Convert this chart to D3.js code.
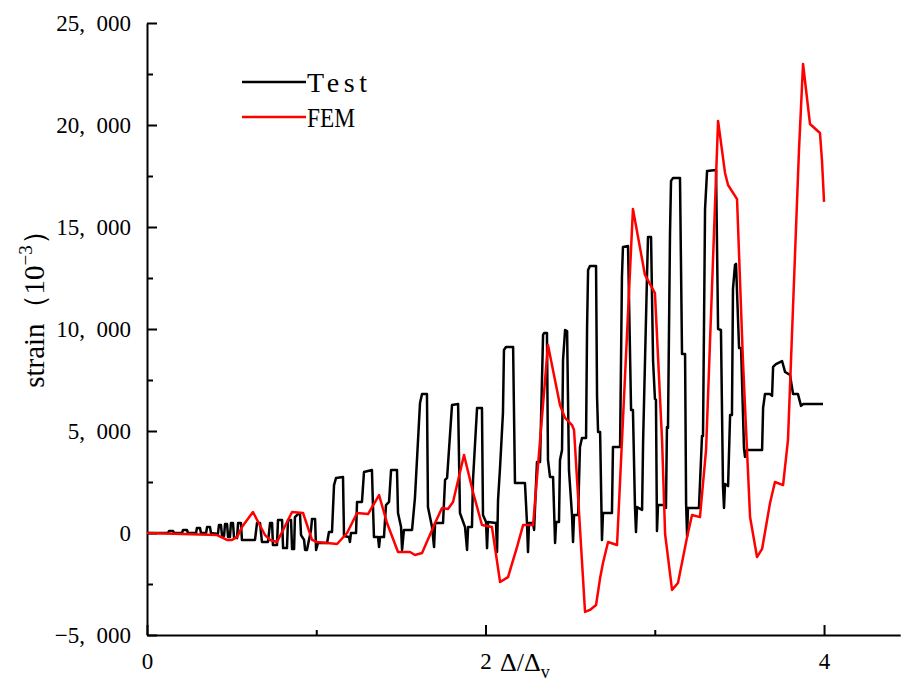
<!DOCTYPE html>
<html>
<head>
<meta charset="utf-8">
<script src="https://cdn.jsdelivr.net/npm/d3@7"></script>
<style>
  body { margin: 0; background: #fff; }
  svg text { font-family: "Liberation Serif", "Times New Roman", serif; fill: #000; }
</style>
</head>
<body>
<div id="chart"></div>
<script>
// Test curve (black) - [delta/delta_y, strain]
var testPoints = [
  [0,0],[0.124,0],[0.130,100],[0.154,100],[0.160,0],[0.207,0],[0.213,150],[0.236,150],[0.242,0],
  [0.290,0],[0.295,250],[0.313,250],[0.319,0],[0.349,0],[0.355,290],[0.372,290],[0.378,0],
  [0.419,-50],[0.425,390],[0.437,390],[0.443,-100],[0.455,-150],[0.461,440],[0.473,440],[0.479,-200],
  [0.490,-200],[0.496,490],[0.508,490],[0.514,-200],[0.532,-250],[0.538,490],[0.555,490],[0.561,-340],
  [0.638,-340],[0.650,490],[0.668,490],[0.679,-440],[0.715,-440],[0.727,490],[0.739,490],[0.744,-590],
  [0.768,-590],[0.774,640],[0.798,640],[0.804,-740],[0.827,-740],[0.833,640],[0.851,640],[0.857,-780],
  [0.869,-780],[0.874,780],[0.892,930],[0.904,930],[0.910,-100],[0.928,-340],[0.934,-830],[0.945,-830],
  [0.969,150],[0.975,690],[0.993,690],[0.999,-830],[1.010,-490],[1.064,-490],[1.075,50],[1.093,50],
  [1.105,2350],[1.117,2700],[1.158,2750],[1.164,-150],[1.193,-200],[1.199,-440],[1.205,0],[1.235,0],
  [1.241,1520],[1.270,1520],[1.282,2990],[1.329,3090],[1.335,1320],[1.341,-200],[1.365,-200],[1.371,-690],
  [1.377,-200],[1.400,-200],[1.412,1370],[1.430,1520],[1.442,3090],[1.477,3090],[1.483,980],[1.501,290],
  [1.507,-830],[1.518,150],[1.566,150],[1.583,1720],[1.613,6370],[1.625,6810],[1.654,6810],[1.660,1270],
  [1.684,290],[1.696,-690],[1.702,490],[1.749,490],[1.761,2600],[1.773,2700],[1.802,6270],[1.838,6320],
  [1.849,980],[1.879,290],[1.891,-830],[1.897,290],[1.920,290],[1.926,2600],[1.950,6130],[1.979,6130],
  [1.985,880],[2.003,540],[2.009,-740],[2.015,540],[2.062,490],[2.068,-930],[2.074,1620],[2.086,3240],
  [2.103,5880],[2.109,8970],[2.121,9120],[2.163,9120],[2.174,2450],[2.233,2450],[2.245,490],[2.251,-930],
  [2.257,490],[2.281,490],[2.287,150],[2.304,3480],[2.322,3480],[2.340,9710],[2.346,9800],[2.363,9800],
  [2.369,3580],[2.381,2750],[2.399,2750],[2.411,-490],[2.417,540],[2.434,540],[2.440,3580],[2.452,4070],
  [2.458,8480],[2.470,9950],[2.482,9900],[2.493,3090],[2.511,880],[2.517,-440],[2.523,880],[2.547,880],
  [2.558,4220],[2.570,4660],[2.594,4660],[2.600,10100],[2.606,12890],[2.617,13090],[2.653,13090],
  [2.659,6670],[2.665,4950],[2.677,4950],[2.688,-340],[2.694,980],[2.747,980],[2.753,4220],[2.795,4220],
  [2.806,12550],[2.812,14020],[2.842,14070],[2.860,6030],[2.871,6030],[2.883,1270],[2.889,50],[2.895,1270],
  [2.925,1130],[2.931,4460],[2.954,12550],[2.960,14510],[2.978,14510],[2.990,8430],[3.001,6570],
  [3.007,6520],[3.013,100],[3.019,1370],[3.061,1370],[3.066,1230],[3.072,5200],[3.078,5150],[3.090,14710],
  [3.096,17260],[3.108,17400],[3.149,17400],[3.161,8770],[3.179,8770],[3.185,1470],[3.191,-150],
  [3.196,1230],[3.261,1230],[3.279,4750],[3.285,4750],[3.297,15880],[3.309,17750],[3.362,17790],
  [3.374,10000],[3.391,9950],[3.403,2300],[3.409,1230],[3.415,2400],[3.433,2300],[3.445,5780],[3.456,5780],
  [3.462,11960],[3.474,13140],[3.480,13190],[3.486,11810],[3.498,9070],[3.510,9070],[3.527,4170],
  [3.533,3730],[3.545,4070],[3.634,4070],[3.640,6130],[3.651,6810],[3.681,6810],[3.693,6720],[3.699,8140],
  [3.716,8280],[3.752,8430],[3.770,7890],[3.799,7750],[3.817,6810],[3.846,6810],[3.864,6230],[3.876,6320],
  [3.994,6320]
];

// FEM curve (red)
var femPoints = [
  [0,0],[0.414,-100],[0.473,-340],[0.502,-340],[0.532,-200],[0.561,290],[0.626,1030],[0.697,-100],
  [0.727,-340],[0.768,-440],[0.804,150],[0.857,1030],[0.922,980],[0.975,-340],[1.004,-440],[1.123,-540],
  [1.182,0],[1.241,980],[1.306,930],[1.371,1860],[1.418,490],[1.483,-930],[1.554,-930],[1.583,-1080],
  [1.625,-980],[1.702,490],[1.743,1230],[1.778,1180],[1.808,1520],[1.873,3820],[1.926,2010],[1.979,390],
  [2.038,290],[2.086,-2400],[2.133,-2160],[2.186,-690],[2.222,390],[2.281,390],[2.369,9220],[2.440,6270],
  [2.470,5640],[2.511,5290],[2.523,5050],[2.588,-3870],[2.617,-3770],[2.653,-3530],[2.677,-2210],
  [2.694,-1470],[2.724,-440],[2.777,-590],[2.871,15880],[2.942,12650],[3.001,11760],[3.043,4560],
  [3.061,-50],[3.102,-2790],[3.137,-2450],[3.191,-200],[3.220,880],[3.267,780],[3.303,4070],[3.374,20200],
  [3.415,17650],[3.433,17060],[3.486,16370],[3.521,8430],[3.563,780],[3.604,-1180],[3.634,-780],
  [3.681,1470],[3.710,2500],[3.758,2350],[3.787,4560],[3.852,18770],[3.876,22990],[3.917,20050],
  [3.976,19610],[3.988,18240],[4.000,16230]
];

var yMajorTicks = [-5000, 0, 5000, 10000, 15000, 20000, 25000];
var yMinorTicks = [-2500, 2500, 7500, 12500, 17500, 22500];
var xMajorTicks = [0, 2, 4];
var xMinorTicks = [1, 3];
var seriesNames = ["Test", "FEM"];
var seriesColors = ["#000000", "#ff0000"];

var svgWidth = 902;
var svgHeight = 682;

var svg = d3.select("#chart")
  .append("svg")
  .attr("width", svgWidth)
  .attr("height", svgHeight);

var xScale = d3.scaleLinear()
  .domain([0, 4.45])
  .range([147, 900.2]);

var yScale = d3.scaleLinear()
  .domain([-5000, 25000])
  .range([635, 23]);

function fmt(d) {
  var s = d3.format(",")(Math.abs(d)).replace(",", ",\u2002");
  return (d < 0 ? "\u2212" : "") + s;
}

// y axis
var yAxis = svg.append("g")
  .attr("transform", "translate(147,0)")
  .call(d3.axisLeft(yScale).tickValues(yMajorTicks).tickSizeInner(-10).tickSizeOuter(0)
    .tickPadding(16).tickFormat(fmt));
yAxis.selectAll("text").style("font-size", "23px");

svg.append("g")
  .attr("transform", "translate(147,0)")
  .call(d3.axisLeft(yScale).tickValues(yMinorTicks).tickSizeInner(-6).tickSizeOuter(0).tickFormat(""))
  .select(".domain").remove();

// x axis
var xAxis = svg.append("g")
  .attr("transform", "translate(0,635)")
  .call(d3.axisBottom(xScale).tickValues(xMajorTicks).tickSizeInner(-10).tickSizeOuter(0)
    .tickPadding(18).tickFormat(d3.format("d")));
xAxis.selectAll("text").style("font-size", "23px");

svg.append("g")
  .attr("transform", "translate(0,635)")
  .call(d3.axisBottom(xScale).tickValues(xMinorTicks).tickSizeInner(-5).tickSizeOuter(0).tickFormat(""))
  .select(".domain").remove();

svg.selectAll(".domain").attr("stroke-width", 2);
svg.selectAll(".tick line").attr("stroke-width", 2);

// axis titles
var xTitle = svg.append("text")
  .attr("x", 500)
  .attr("y", 671)
  .style("font-size", "26px");
xTitle.append("tspan").text("\u0394/\u0394");
xTitle.append("tspan").attr("dy", 7).style("font-size", "18px").text("v");

var yTitle = svg.append("text")
  .attr("transform", "translate(44,302) rotate(-90)")
  .attr("text-anchor", "middle")
  .style("font-size", "29px");
yTitle.append("tspan").text("strain\uff08");
yTitle.append("tspan").text("10");
yTitle.append("tspan").attr("dy", -12).style("font-size", "19px").text("\u22123");
yTitle.append("tspan").attr("dy", 12).text("\uff09");

// lines
var line = d3.line()
  .x(d => xScale(d[0]))
  .y(d => yScale(d[1]));

[testPoints, femPoints].forEach(function (pts, i) {
  svg.append("path")
    .datum(pts)
    .attr("fill", "none")
    .attr("stroke", seriesColors[i])
    .attr("stroke-width", 2.5)
    .attr("stroke-linejoin", "round")
    .attr("d", line);
});

// legend
var legend = svg.append("g");
seriesNames.forEach(function (name, i) {
  var y = 82 + i * 35;
  legend.append("line")
    .attr("x1", 242).attr("x2", 306)
    .attr("y1", y).attr("y2", y)
    .attr("stroke", seriesColors[i])
    .attr("stroke-width", 2.5);
  legend.append("text")
    .attr("x", 307)
    .attr("y", y + 10)
    .attr("textLength", i == 0 ? 60 : 48)
    .attr("lengthAdjust", i == 0 ? "spacing" : "spacingAndGlyphs")
    .style("font-size", "28px")
    .text(name);
});
</script>
</body>
</html>
